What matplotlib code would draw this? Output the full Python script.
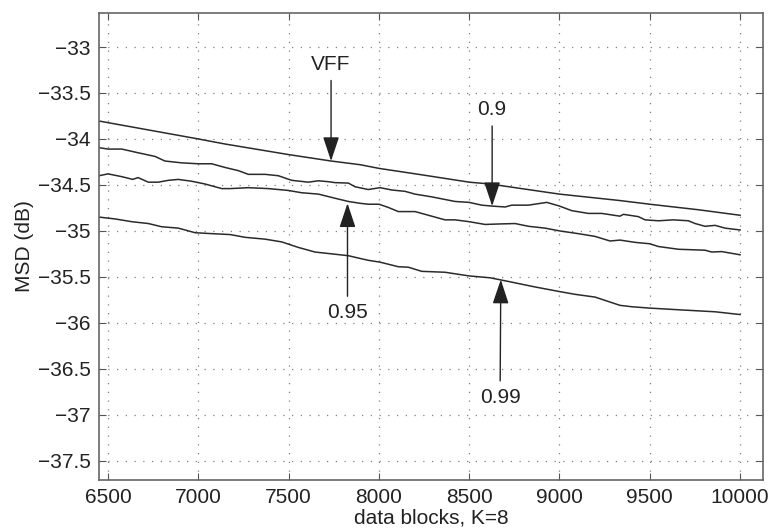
import numpy as np
import matplotlib.pyplot as plt

plt.rcParams['font.family'] = ['Liberation Sans', 'DejaVu Sans']

# curves (x = data block, y = MSD in dB)
vff_x = [6450, 7000, 7148, 7500, 7735, 7896, 8000, 8237, 8500, 8615, 9000, 9335, 9500, 9769, 10000]
vff_y = [-33.805, -34.00, -34.055, -34.17, -34.24, -34.28, -34.32, -34.39, -34.47, -34.49,
         -34.60, -34.67, -34.71, -34.77, -34.83]

l90_x = [6450, 6500, 6576, 6666, 6760, 6815, 6908, 7000, 7074, 7148, 7222, 7277, 7370, 7443,
         7517, 7609, 7665, 7720, 7757, 7831, 7868, 7941, 8006, 8071, 8145, 8200, 8293, 8422,
         8500, 8569, 8625, 8699, 8736, 8828, 8930, 9000, 9068, 9160, 9234, 9335, 9354, 9437,
         9474, 9548, 9631, 9714, 9751, 9806, 9862, 9917, 10000]
l90_y = [-34.095, -34.11, -34.11, -34.15, -34.19, -34.24, -34.26, -34.27, -34.27, -34.31,
         -34.345, -34.385, -34.385, -34.40, -34.45, -34.47, -34.455, -34.465, -34.475, -34.48,
         -34.52, -34.55, -34.53, -34.555, -34.57, -34.60, -34.63, -34.68, -34.69, -34.72,
         -34.73, -34.74, -34.72, -34.72, -34.69, -34.73, -34.78, -34.81, -34.81, -34.84,
         -34.82, -34.845, -34.88, -34.89, -34.88, -34.89, -34.92, -34.95, -34.94, -34.97, -34.99]

l95_x = [6450, 6500, 6576, 6637, 6666, 6723, 6779, 6834, 6889, 6963, 7037, 7130, 7176, 7277,
         7388, 7498, 7572, 7665, 7757, 7831, 7896, 7941, 8000, 8052, 8108, 8200, 8274, 8366,
         8422, 8500, 8588, 8662, 8754, 8828, 8920, 9000, 9104, 9197, 9280, 9335, 9419, 9500,
         9548, 9659, 9806, 9843, 9898, 10000]
l95_y = [-34.40, -34.38, -34.41, -34.44, -34.42, -34.47, -34.47, -34.45, -34.44, -34.46,
         -34.49, -34.54, -34.54, -34.53, -34.54, -34.56, -34.585, -34.60, -34.645, -34.68,
         -34.70, -34.71, -34.71, -34.745, -34.79, -34.79, -34.83, -34.88, -34.88, -34.90,
         -34.93, -34.925, -34.92, -34.95, -34.97, -35.00, -35.03, -35.06, -35.11, -35.10,
         -35.125, -35.14, -35.17, -35.20, -35.21, -35.23, -35.225, -35.26]

l99_x = [6450, 6539, 6631, 6723, 6797, 6889, 6982, 7074, 7176, 7259, 7370, 7462, 7554, 7646,
         7739, 7831, 7896, 7941, 8006, 8108, 8163, 8237, 8366, 8500, 8615, 8717, 8865, 9000,
         9086, 9197, 9335, 9400, 9500, 9677, 9862, 10000]
l99_y = [-34.85, -34.87, -34.90, -34.92, -34.955, -34.97, -35.02, -35.03, -35.04, -35.07,
         -35.09, -35.12, -35.18, -35.23, -35.25, -35.27, -35.30, -35.32, -35.34, -35.39,
         -35.395, -35.44, -35.45, -35.49, -35.51, -35.55, -35.61, -35.66, -35.69, -35.72,
         -35.81, -35.825, -35.84, -35.86, -35.88, -35.91]

# labels: text, arrow tip, text position
labels = ['VFF', '0.9', '0.95', '0.99']
tips = [(7735, -34.24), (8627, -34.73), (7826, -34.70), (8675, -35.53)]
text_pos = [(7735, -33.185), (8627, -33.68), (7826, -35.89), (8671, -36.81)]

xticks = [6500, 7000, 7500, 8000, 8500, 9000, 9500, 10000]
yticks = [-33, -33.5, -34, -34.5, -35, -35.5, -36, -36.5, -37, -37.5]

fig = plt.figure(figsize=(7.7, 5.31), dpi=100)
ax = fig.add_axes([0.1286, 0.096, 0.8623, 0.8795])

lc = '#2b2b2b'
for xs, ys in [(vff_x, vff_y), (l90_x, l90_y), (l95_x, l95_y), (l99_x, l99_y)]:
    ax.plot(xs, ys, color=lc, lw=1.1)

for lab, tip, pos in zip(labels, tips, text_pos):
    ax.annotate(lab, xy=tip, xytext=pos, ha='center', va='center', fontsize=15,
                color='#222222',
                arrowprops=dict(arrowstyle='-|>,head_length=0.75,head_width=0.25',
                                mutation_scale=20, color='#222222', lw=1.0,
                                shrinkA=3, shrinkB=0))

ax.set_xlim(6450, 10127)
ax.set_ylim(-37.71, -32.63)
ax.set_xticks(xticks)
ax.set_yticks(yticks)
ax.set_yticklabels([f'{v:g}'.replace('-', '\u2212') for v in yticks])
ax.grid(True, color='#808080', linestyle=(0, (1, 6)), lw=0.9)
ax.tick_params(direction='in', top=True, right=True, length=5, labelsize=15,
               color='#555555', labelcolor='#222222', pad=6)
for s in ax.spines.values():
    s.set_color('#666666')
    s.set_linewidth(1.2)

ax.set_xlabel('data blocks, K=8', fontsize=15, color='#222222', labelpad=1)
ax.set_ylabel('MSD (dB)', fontsize=15, color='#222222', labelpad=3)

fig.savefig('out.png', dpi=100)
